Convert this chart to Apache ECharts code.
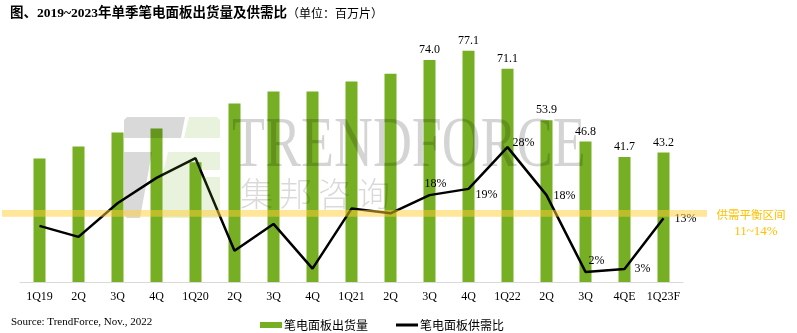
<!DOCTYPE html>
<html><head><meta charset="utf-8">
<script src="https://cdn.jsdelivr.net/npm/echarts@6/dist/echarts.min.js"></script>
<style>html,body{margin:0;padding:0;background:#fff}#c{width:797px;height:333px}</style>
</head><body><div id="c"></div>
<script>
const categories = ['1Q19','2Q','3Q','4Q','1Q20','2Q','3Q','4Q','1Q21','2Q','3Q','4Q','1Q22','2Q','3Q','4QE','1Q23F'];
const shipments = [41.2, 45.2, 49.8, 51.2, 39.9, 59.5, 63.5, 63.5, 66.8, 69.4, 74.0, 77.1, 71.1, 53.9, 46.8, 41.7, 43.2];
const ratio = [11.7, 9.4, 16.4, 21.7, 25.8, 6.5, 12.1, 2.8, 15.3, 14.3, 18.1, 19.4, 28.1, 18.1, 2.1, 2.7, 13.3];
const firstLabeled = 10;
const bandRange = [13.6, 15.0];
const lineLabelOffsets = [[6,-11],[18,6],[16,-4],[18,1],[11,-11],[18,0],[22,1]];

const serif = "'Liberation Serif','Times New Roman',serif";
const cjk = "'Noto Sans CJK SC','Liberation Serif',sans-serif";
const chart = echarts.init(document.getElementById('c'));

chart.setOption({
  animation: false,
  title: {
    left: 5, top: 2,
    text: '{b|图、2019~2023年单季笔电面板出货量及供需比}{n|（单位：百万片）}',
    textStyle: {
      fontWeight: 'normal',
      rich: {
        b: {fontFamily: "'Liberation Serif','Noto Sans CJK SC',serif", fontWeight: 'bold', fontSize: 13.5, color: '#000'},
        n: {fontFamily: cjk, fontWeight: 'normal', fontSize: 12, color: '#000'}
      }
    }
  },
  legend: {
    left: 255, top: 314,
    itemWidth: 22, itemHeight: 6, itemGap: 28,
    textStyle: {fontFamily: cjk, fontSize: 12, color: '#000', padding: [0,0,0,-3]},
    data: [
      {name: '笔电面板出货量', icon: 'rect'},
      {name: '笔电面板供需比', icon: 'path://M0,0H22V3H0Z', itemStyle: {color: '#000'}}
    ]
  },
  grid: {left: 20, right: 114, top: 42, bottom: 51},
  xAxis: {
    type: 'category', data: categories,
    axisLine: {lineStyle: {color: '#d9d9d9', width: 1}},
    axisTick: {show: false},
    axisLabel: {fontFamily: serif, fontSize: 12, color: '#000', margin: 9, interval: 0}
  },
  yAxis: [
    {type: 'value', min: 0, max: 80, show: false, splitLine: {show: false}},
    {type: 'value', min: 0, max: 50, show: false, splitLine: {show: false}}
  ],
  series: [
    {
      name: '笔电面板出货量', type: 'bar', barWidth: 12,
      itemStyle: {color: '#76AF23'},
      data: shipments.map((v, i) => ({
        value: v,
        label: {show: i >= firstLabeled}
      })),
      label: {position: 'top', distance: 4, fontFamily: serif, fontSize: 12, color: '#000',
        formatter: p => p.value.toFixed(1)},
      z: 2
    },
    {
      name: '笔电面板供需比', type: 'line', yAxisIndex: 1,
      symbol: 'circle', symbolSize: 1, showSymbol: true,
      itemStyle: {color: 'rgba(0,0,0,0)'},
      lineStyle: {color: '#000', width: 2.5},
      data: ratio.map((v, i) => ({
        value: v,
        label: i >= firstLabeled ? {show: true, offset: lineLabelOffsets[i - firstLabeled]} : {show: false}
      })),
      label: {position: 'inside', fontFamily: serif, fontSize: 12, color: '#000',
        formatter: p => Math.round(p.value) + '%'},
      z: 3
    }
  ]
});

const yTop = chart.convertToPixel({yAxisIndex: 1}, bandRange[1]);
const yBot = chart.convertToPixel({yAxisIndex: 1}, bandRange[0]);
const gray = 'rgba(0,0,0,0.15)';
const lgreen = 'rgba(118,175,35,0.16)';
const graphics = [
  {type: 'polygon', z: 50, shape: {points: [[127,117],[185,117],[181,138],[124,138],[124,120]]}, style: {fill: gray}},
  {type: 'polygon', z: 50, shape: {points: [[124,152],[152,152],[140,218],[127,218],[124,215]]}, style: {fill: gray}},
  {type: 'polygon', z: 50, shape: {points: [[189,117],[217,117],[220,120],[220,138],[184,138]]}, style: {fill: lgreen}},
  {type: 'polygon', z: 50, shape: {points: [[168,152],[220,152],[220,170],[197,170],[197,177],[220,177],[220,215],[217,218],[152,218]]}, style: {fill: lgreen}},
  {type: 'text', z: 50, x: 232, y: 147, scaleX: 0.76,
    style: {text: 'TRENDFORCE', font: "71px 'Liberation Serif'", fill: 'rgba(0,0,0,0.17)', align: 'left', verticalAlign: 'middle'}},
  {type: 'rect', z: 60, shape: {x: 2, y: yTop, width: 705, height: yBot - yTop}, style: {fill: 'rgba(255,205,50,0.5)'}},
  {type: 'text', z: 60, x: 751, y: 215, style: {text: '供需平衡区间', font: "11.5px 'Noto Sans CJK SC'", fill: '#FFC000', align: 'center', verticalAlign: 'middle'}},
  {type: 'text', z: 60, x: 756, y: 232, style: {text: '11~14%', font: "13px 'Liberation Serif'", fill: '#FFC000', align: 'center', verticalAlign: 'middle'}},
  {type: 'text', z: 60, x: 11, y: 322, style: {text: 'Source: TrendForce, Nov., 2022', font: "11px 'Liberation Serif'", fill: '#000', align: 'left', verticalAlign: 'middle'}}
];
'集邦咨询'.split('').forEach((ch, i) => {
  graphics.push({type: 'text', z: 50, x: 240 + i * 39, y: 193,
    style: {text: ch, font: "300 33px 'Noto Sans CJK SC'", fill: 'rgba(0,0,0,0.15)', align: 'left', verticalAlign: 'middle'}});
});
chart.setOption({graphic: graphics});
</script>
</body></html>
